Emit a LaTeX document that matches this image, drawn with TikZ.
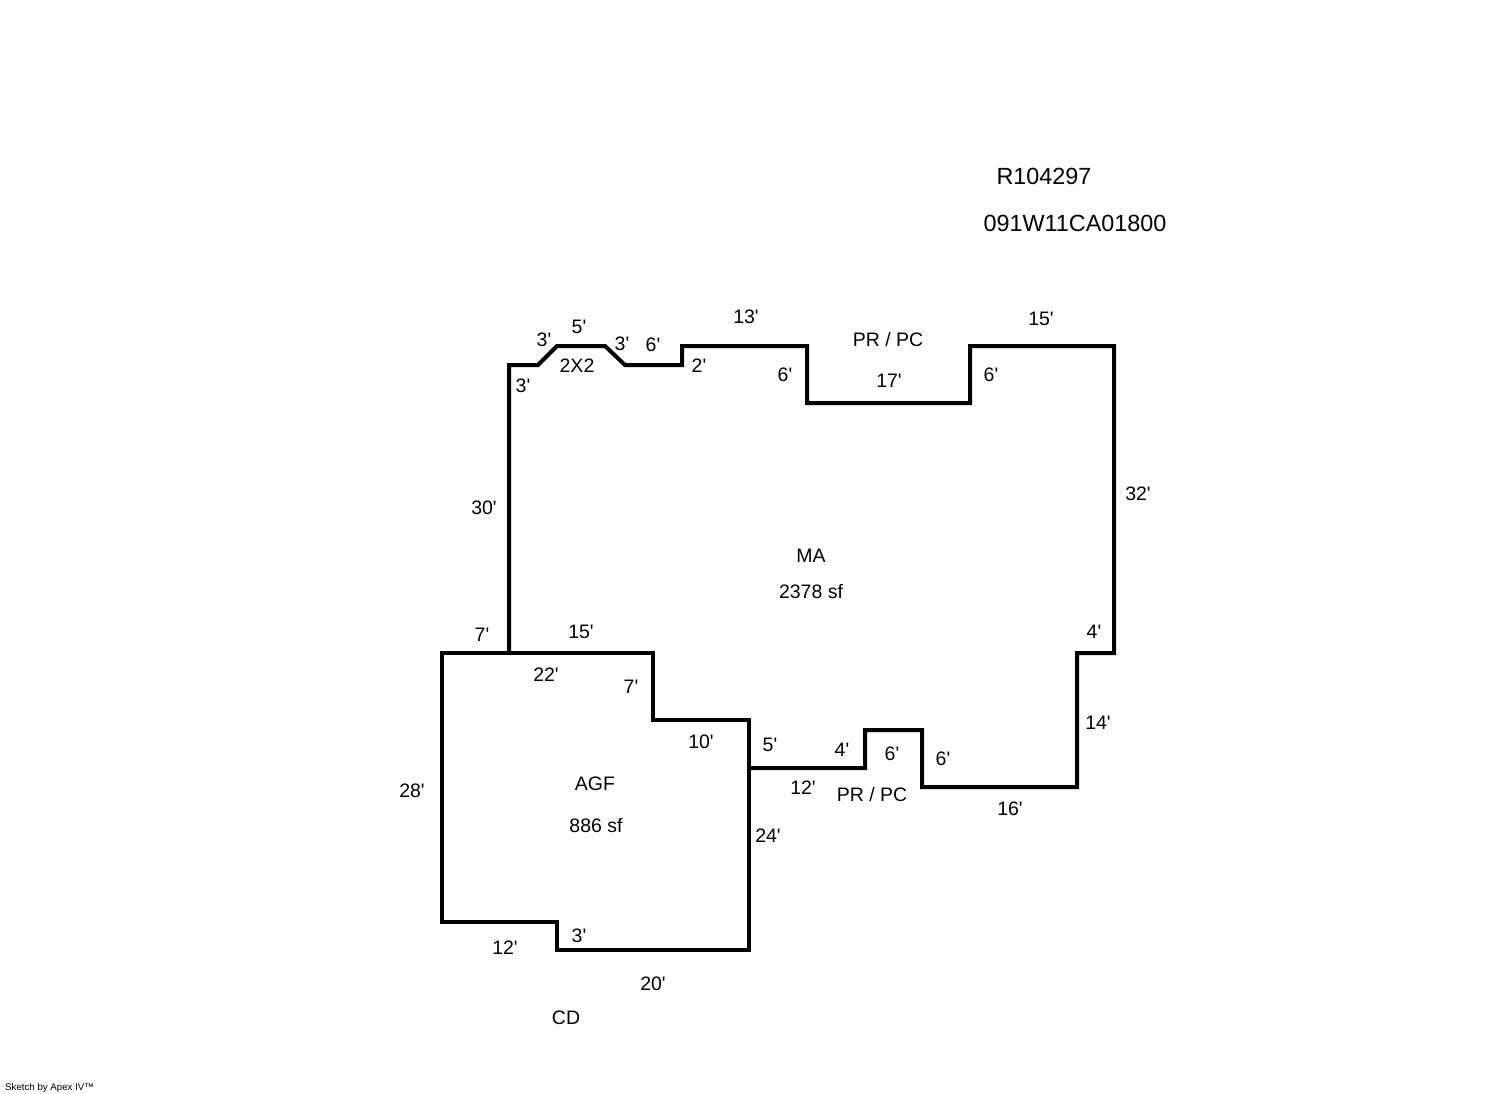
\documentclass[tikz,border=0pt]{standalone}
\usepackage{fontspec}
\setmainfont{Liberation Sans}[Ligatures=TeXOff]
\tikzset{
  wall/.style={line width=4pt,line join=miter,line cap=butt,draw=black},
  lab/.style={inner sep=0pt,font=\fontsize{19.5}{22}\selectfont,text=black},
  big/.style={inner sep=0pt,font=\fontsize{23.4}{26}\selectfont,text=black},
  tiny/.style={inner sep=0pt,font=\fontsize{9.7}{11}\selectfont,text=black}
}
\begin{document}
\begin{tikzpicture}[x=1pt,y=-1pt]
\useasboundingbox[fill=white] (0,0) rectangle (1492,1094);
\draw[wall] (509,653) -- (509,365) -- (538,365) -- (557,346) -- (605,346) -- (625,365) -- (682,365) -- (682,346) -- (807,346) -- (807,403) -- (970,403) -- (970,346) -- (1114,346) -- (1114,653) -- (1077,653) -- (1077,787) -- (922,787) -- (922,730) -- (865,730) -- (865,768) -- (749,768);
\draw[wall] (442,653) -- (653,653) -- (653,720) -- (749,720) -- (749,950) -- (557,950) -- (557,922) -- (442,922) -- cycle;
\node[big] (id1) at (1044,176) {R104297};
\node[big] (id2) at (1075,223) {091W11CA01800};
\foreach \n/\x/\y/\t in {
 a/544/340/{3'}, b/579/327/{5'}, c/622/344/{3'}, d/653/345/{6'}, e/746/317/{13'},
 f/888/340/{PR / PC}, g/1041/319/{15'}, h/523/386/{3'}, i/577/366/{2X2}, j/699/366/{2'},
 k/785/375/{6'}, l/889/381/{17'}, m/991/375/{6'}, n/1138/494/{32'}, o/484/508/{30'},
 p/811/556/{MA}, q/811/592/{2378 sf}, r/482/635/{7'}, s/581/632/{15'}, t/1094/632/{4'},
 u/546/675/{22'}, v/631/687/{7'}, w/1098/723/{14'}, x/701/742/{10'}, y/770/745/{5'},
 z/842/750/{4'}, aa/892/754/{6'}, ab/943/759/{6'}, ac/803/788/{12'}, ad/872/795/{PR / PC},
 ae/412/791/{28'}, af/595/784/{AGF}, ag/1010/809/{16'}, ah/596/826/{886 sf}, ai/768/836/{24'},
 aj/579/936/{3'}, ak/505/948/{12'}, al/653/984/{20'}, am/566/1018/{CD}}
 {\node[lab] (\n) at (\x,\y) {\t};}
\node[tiny,anchor=west] (credit) at (5,1088) {Sketch by Apex IV™};
\end{tikzpicture}
\end{document}
